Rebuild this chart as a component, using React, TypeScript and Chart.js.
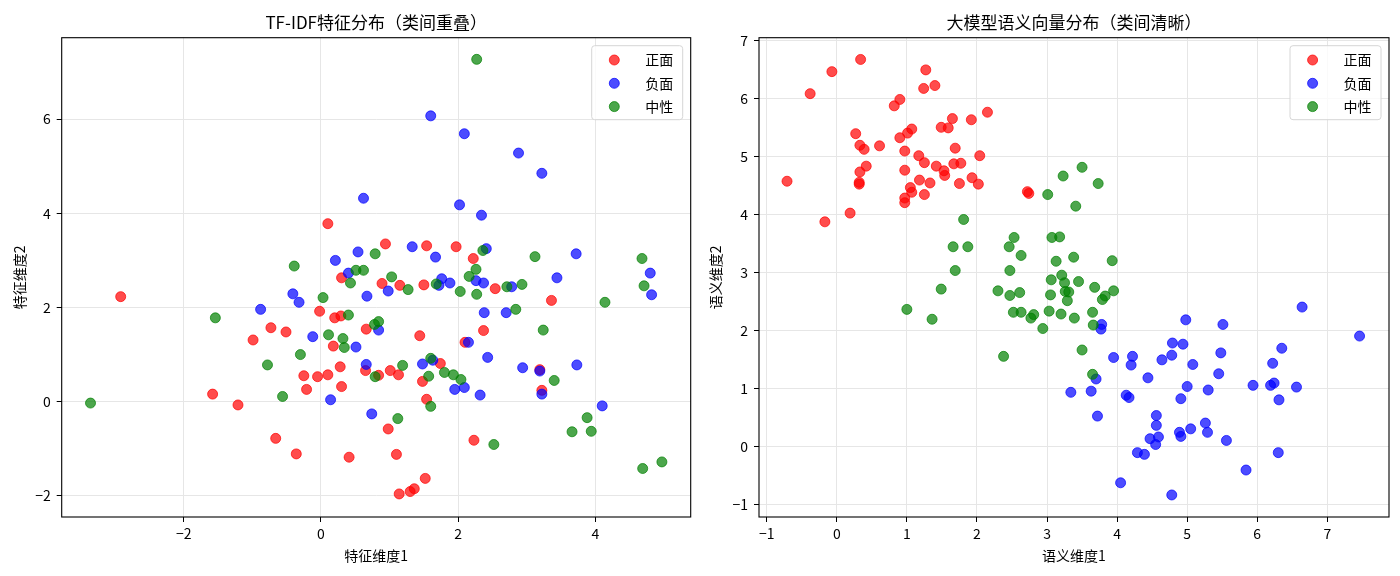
import { useEffect, useRef } from "react"
import { Chart, registerables } from "chart.js"
import type { Plugin } from "chart.js"

Chart.register(...registerables)

type Pt = [number, number]

// ---- TF-IDF panel (classes overlap) ----
const tfidfPositive: Pt[] = [
  [0.10, 3.78], [0.30, 2.63], [0.94, 3.35], [1.54, 3.31], [1.97, 3.29], [2.22, 3.04],
  [0.89, 2.51], [1.15, 2.47], [1.50, 2.48], [2.54, 2.40], [3.36, 2.15], [1.44, 1.40],
  [2.37, 1.51], [2.10, 1.26], [3.19, 0.68], [3.22, 0.24], [1.74, 0.81], [1.01, 0.66],
  [1.13, 0.57], [0.84, 0.56], [1.48, 0.43], [1.54, 0.05], [0.98, -0.58], [1.10, -1.12],
  [1.52, -1.63], [1.36, -1.85], [1.30, -1.91], [1.14, -1.96], [2.23, -0.82], [-2.92, 2.23],
  [-1.58, 0.16], [-1.21, -0.07], [-0.66, -0.78], [-0.36, -1.11], [0.41, -1.18], [-0.02, 1.92],
  [0.20, 1.78], [0.29, 1.82], [-0.73, 1.57], [-0.51, 1.48], [-0.99, 1.31], [0.18, 1.18],
  [0.66, 1.54], [-0.25, 0.55], [-0.05, 0.53], [0.10, 0.57], [0.28, 0.74], [-0.21, 0.26],
  [0.30, 0.32], [0.65, 0.66],
]
const tfidfNegative: Pt[] = [
  [0.62, 4.32], [0.54, 3.18], [0.21, 3.00], [0.40, 2.73], [1.60, 6.07], [2.09, 5.69],
  [2.88, 5.28], [3.22, 4.85], [2.02, 4.18], [2.34, 3.96], [1.33, 3.29], [1.67, 3.07],
  [2.41, 3.25], [3.72, 3.14], [4.80, 2.73], [0.98, 2.35], [1.72, 2.47], [1.76, 2.61],
  [1.88, 2.52], [2.26, 2.57], [2.37, 2.52], [2.78, 2.44], [3.44, 2.63], [4.82, 2.27],
  [2.38, 1.89], [2.70, 1.89], [0.84, 1.52], [2.15, 1.26], [2.43, 0.94], [2.94, 0.72],
  [3.19, 0.65], [3.73, 0.78], [3.22, 0.16], [1.48, 0.80], [1.63, 0.88], [1.95, 0.26],
  [2.09, 0.30], [2.32, 0.14], [0.74, -0.26], [4.10, -0.09], [0.14, 0.04], [-0.88, 1.96],
  [-0.41, 2.29], [-0.32, 2.11], [0.67, 2.24], [-0.12, 1.38], [0.51, 1.16], [0.66, 0.79],
]
const tfidfNeutral: Pt[] = [
  [0.79, 3.14], [-0.39, 2.88], [0.51, 2.79], [0.62, 2.79], [2.27, 7.27], [2.36, 3.21],
  [3.12, 3.08], [4.68, 3.04], [2.26, 2.81], [1.03, 2.65], [1.27, 2.38], [1.68, 2.50],
  [2.03, 2.34], [2.16, 2.66], [2.27, 2.28], [2.71, 2.44], [2.93, 2.49], [4.14, 2.11],
  [4.71, 2.46], [2.84, 1.96], [0.84, 1.70], [0.78, 1.64], [3.24, 1.52], [3.40, 0.45],
  [1.19, 0.77], [0.79, 0.53], [1.57, 0.54], [1.80, 0.62], [1.93, 0.57], [2.04, 0.47],
  [1.60, 0.92], [1.60, -0.10], [1.12, -0.36], [2.52, -0.91], [3.88, -0.34], [3.66, -0.64],
  [3.94, -0.63], [4.69, -1.42], [4.97, -1.28], [-1.54, 1.78], [-3.36, -0.03], [0.03, 2.21],
  [0.40, 1.84], [0.43, 2.52], [0.11, 1.42], [0.32, 1.34], [0.34, 1.15], [-0.30, 1.00],
  [-0.78, 0.78], [-0.56, 0.11],
]

// ---- LLM embedding panel (classes separated) ----
const llmPositive: Pt[] = [
  [0.34, 6.67], [-0.07, 6.46], [-0.38, 6.08], [1.27, 6.49], [1.24, 6.17], [1.40, 6.22],
  [0.90, 5.98], [0.82, 5.87], [2.15, 5.76], [1.65, 5.65], [1.92, 5.63], [1.49, 5.50],
  [1.59, 5.49], [1.07, 5.47], [1.01, 5.40], [0.90, 5.32], [0.27, 5.39], [0.33, 5.19],
  [0.39, 5.12], [0.61, 5.18], [1.69, 5.14], [0.97, 5.09], [1.17, 5.01], [2.04, 5.01],
  [1.25, 4.89], [1.42, 4.83], [1.67, 4.87], [1.77, 4.88], [1.53, 4.75], [1.54, 4.67],
  [0.42, 4.83], [0.33, 4.73], [0.97, 4.76], [1.93, 4.63], [2.02, 4.52], [1.75, 4.53],
  [1.18, 4.59], [1.33, 4.54], [0.32, 4.55], [0.32, 4.52], [1.05, 4.46], [1.07, 4.38],
  [1.25, 4.34], [0.97, 4.28], [0.97, 4.20], [-0.71, 4.57], [0.19, 4.02], [-0.17, 3.87],
  [2.72, 4.39], [2.74, 4.36],
]
const llmNegative: Pt[] = [
  [3.78, 2.10], [3.77, 2.02], [3.95, 1.53], [4.22, 1.55], [4.20, 1.40], [4.44, 1.18],
  [4.98, 2.18], [5.51, 2.10], [4.79, 1.78], [4.94, 1.76], [4.78, 1.57], [4.64, 1.49],
  [5.48, 1.61], [5.08, 1.41], [5.45, 1.25], [3.70, 1.16], [5.00, 1.03], [5.30, 0.97],
  [5.94, 1.05], [3.34, 0.93], [3.63, 0.95], [4.13, 0.88], [4.17, 0.84], [4.91, 0.82],
  [3.72, 0.52], [4.56, 0.53], [4.56, 0.36], [5.05, 0.30], [5.26, 0.40], [5.29, 0.24],
  [4.89, 0.24], [4.91, 0.17], [4.47, 0.13], [4.59, 0.16], [4.55, 0.03], [5.56, 0.10],
  [4.29, -0.11], [4.39, -0.14], [5.84, -0.41], [4.05, -0.63], [4.78, -0.84], [6.64, 2.40],
  [7.46, 1.90], [6.35, 1.69], [6.22, 1.43], [6.24, 1.09], [6.19, 1.05], [6.56, 1.02],
  [6.31, 0.80], [6.30, -0.11],
]
const llmNeutral: Pt[] = [
  [3.50, 4.81], [3.23, 4.66], [3.73, 4.53], [3.01, 4.34], [3.41, 4.14], [1.81, 3.91],
  [2.53, 3.60], [2.46, 3.44], [3.07, 3.60], [3.18, 3.61], [1.87, 3.44], [2.63, 3.29],
  [3.13, 3.19], [3.38, 3.26], [3.93, 3.20], [2.47, 3.03], [1.69, 3.03], [3.21, 2.95],
  [3.06, 2.87], [3.25, 2.82], [3.45, 2.84], [2.30, 2.68], [2.47, 2.60], [2.61, 2.65],
  [3.05, 2.61], [3.26, 2.67], [3.31, 2.66], [3.29, 2.51], [3.68, 2.74], [3.95, 2.68],
  [3.83, 2.59], [3.79, 2.53], [2.52, 2.31], [2.63, 2.31], [2.81, 2.27], [2.77, 2.21],
  [3.03, 2.33], [3.20, 2.28], [3.39, 2.21], [3.65, 2.31], [2.94, 2.03], [3.66, 2.09],
  [2.38, 1.55], [3.50, 1.66], [3.65, 1.24], [1.00, 2.36], [1.36, 2.19], [1.49, 2.71],
  [1.66, 3.44],
]

const classLabels = ["正面", "负面", "中性"]
const classColors = ["rgba(255, 0, 0, 0.7)", "rgba(0, 0, 255, 0.7)", "rgba(0, 128, 0, 0.7)"]

const tfidfXTicks = [-2, 0, 2, 4]
const tfidfYTicks = [-2, 0, 2, 4, 6]
const llmXTicks = [-1, 0, 1, 2, 3, 4, 5, 6, 7]
const llmYTicks = [-1, 0, 1, 2, 3, 4, 5, 6, 7]

const FONT = '"Noto Sans CJK SC", "Noto Sans", sans-serif'

const fmt = (v: number | string) => {
  const n = Number(v)
  return n < 0 ? "\u2212" + Math.abs(n) : String(n)
}

// axes box on all four sides + legend inside the upper-right corner
const frameAndLegend: Plugin<"scatter"> = {
  id: "frameAndLegend",
  afterDraw(chart) {
    const { ctx, chartArea: a } = chart
    ctx.save()
    ctx.strokeStyle = "#000"
    ctx.lineWidth = 1.1
    ctx.strokeRect(a.left, a.top, a.right - a.left, a.bottom - a.top)

    const w = 91
    const h = 74
    const x0 = a.right - 8 - w
    const y0 = a.top + 8
    ctx.beginPath()
    ctx.roundRect(x0, y0, w, h, 3)
    ctx.fillStyle = "rgba(255, 255, 255, 0.8)"
    ctx.fill()
    ctx.strokeStyle = "#d6d6d6"
    ctx.lineWidth = 1
    ctx.stroke()

    ctx.font = `14px ${FONT}`
    ctx.textBaseline = "middle"
    ctx.textAlign = "left"
    chart.data.datasets.forEach((ds, i) => {
      const cy = y0 + 14.3 + i * 23.3
      ctx.beginPath()
      ctx.arc(x0 + 22.6, cy, 5, 0, Math.PI * 2)
      ctx.fillStyle = ds.backgroundColor as string
      ctx.fill()
      ctx.strokeStyle = ds.borderColor as string
      ctx.stroke()
      ctx.fillStyle = "#000"
      ctx.fillText(ds.label ?? "", x0 + 53.6, cy)
    })
    ctx.restore()
  },
}

interface PanelProps {
  title: string
  xLabel: string
  yLabel: string
  series: Pt[][]
  xRange: [number, number]
  yRange: [number, number]
  xTicks: number[]
  yTicks: number[]
  yAxisWidth: number
  yTitlePad: number
  rightPad: number
}

function ScatterPanel(props: PanelProps) {
  const chartRef = useRef<HTMLCanvasElement>(null)
  const chartInstance = useRef<Chart | null>(null)

  useEffect(() => {
    if (!chartRef.current) return
    if (chartInstance.current) chartInstance.current.destroy()
    const ctx = chartRef.current.getContext("2d")
    if (!ctx) return

    const { xTicks, yTicks } = props

    chartInstance.current = new Chart(ctx, {
      type: "scatter",
      data: {
        datasets: props.series.map((pts, i) => ({
          label: classLabels[i],
          data: pts.map(([x, y]) => ({ x, y })),
          backgroundColor: classColors[i],
          borderColor: classColors[i],
          borderWidth: 1,
          pointRadius: 5,
          pointHoverRadius: 5,
          order: props.series.length - 1 - i,
        })),
      },
      options: {
        responsive: false,
        animation: false,
        events: [],
        layout: { padding: { left: 0, right: props.rightPad, top: 0, bottom: 0 } },
        plugins: {
          legend: { display: false },
          tooltip: { enabled: false },
          title: {
            display: true,
            fullSize: false,
            text: props.title,
            color: "#000",
            font: { family: FONT, size: 17, weight: "normal" },
            padding: { top: 12, bottom: 5.3 },
          },
        },
        scales: {
          x: {
            type: "linear",
            min: props.xRange[0],
            max: props.xRange[1],
            afterBuildTicks: (axis) => {
              axis.ticks = xTicks.map((value) => ({ value }))
            },
            afterFit: (axis) => {
              axis.height = 59
            },
            ticks: {
              callback: fmt,
              color: "#000",
              font: { family: FONT, size: 14 },
              padding: 3,
              autoSkip: false,
              maxRotation: 0,
            },
            grid: { color: "#e6e6e6", tickColor: "#000", tickLength: 5, lineWidth: 1 },
            border: { display: false },
            title: {
              display: true,
              text: props.xLabel,
              color: "#000",
              font: { family: FONT, size: 14 },
              padding: { top: 0, bottom: 11.6 },
            },
          },
          y: {
            type: "linear",
            min: props.yRange[0],
            max: props.yRange[1],
            afterBuildTicks: (axis) => {
              axis.ticks = yTicks.map((value) => ({ value }))
            },
            afterFit: (axis) => {
              axis.width = props.yAxisWidth
            },
            ticks: {
              callback: fmt,
              color: "#000",
              font: { family: FONT, size: 14 },
              padding: 6,
              autoSkip: false,
            },
            grid: { color: "#e6e6e6", tickColor: "#000", tickLength: 5, lineWidth: 1 },
            border: { display: false },
            title: {
              display: true,
              text: props.yLabel,
              color: "#000",
              font: { family: FONT, size: 14 },
              padding: { top: props.yTitlePad, bottom: 0 },
            },
          },
        },
      },
      plugins: [frameAndLegend],
    })

    return () => {
      if (chartInstance.current) {
        chartInstance.current.destroy()
        chartInstance.current = null
      }
    }
  }, [props])

  return <canvas ref={chartRef} width={700} height={576} style={{ width: 700, height: 576, display: "block" }} />
}

const tfidfPanel: PanelProps = {
  title: "TF-IDF特征分布（类间重叠）",
  xLabel: "特征维度1",
  yLabel: "特征维度2",
  series: [tfidfPositive, tfidfNegative, tfidfNeutral],
  xRange: [-3.78, 5.39],
  yRange: [-2.45, 7.73],
  xTicks: tfidfXTicks,
  yTicks: tfidfYTicks,
  yAxisWidth: 61.7,
  yTitlePad: 11.6,
  rightPad: 9.3,
}

const llmPanel: PanelProps = {
  title: "大模型语义向量分布（类间清晰）",
  xLabel: "语义维度1",
  yLabel: "语义维度2",
  series: [llmPositive, llmNegative, llmNeutral],
  xRange: [-1.11, 7.88],
  yRange: [-1.22, 7.045],
  xTicks: llmXTicks,
  yTicks: llmYTicks,
  yAxisWidth: 59,
  yTitlePad: 7.6,
  rightPad: 11,
}

export default function App() {
  return (
    <div
      style={{
        position: "fixed",
        left: 0,
        top: 0,
        width: 1400,
        height: 576,
        background: "#fff",
        display: "flex",
      }}
    >
      <ScatterPanel {...tfidfPanel} />
      <ScatterPanel {...llmPanel} />
    </div>
  )
}
